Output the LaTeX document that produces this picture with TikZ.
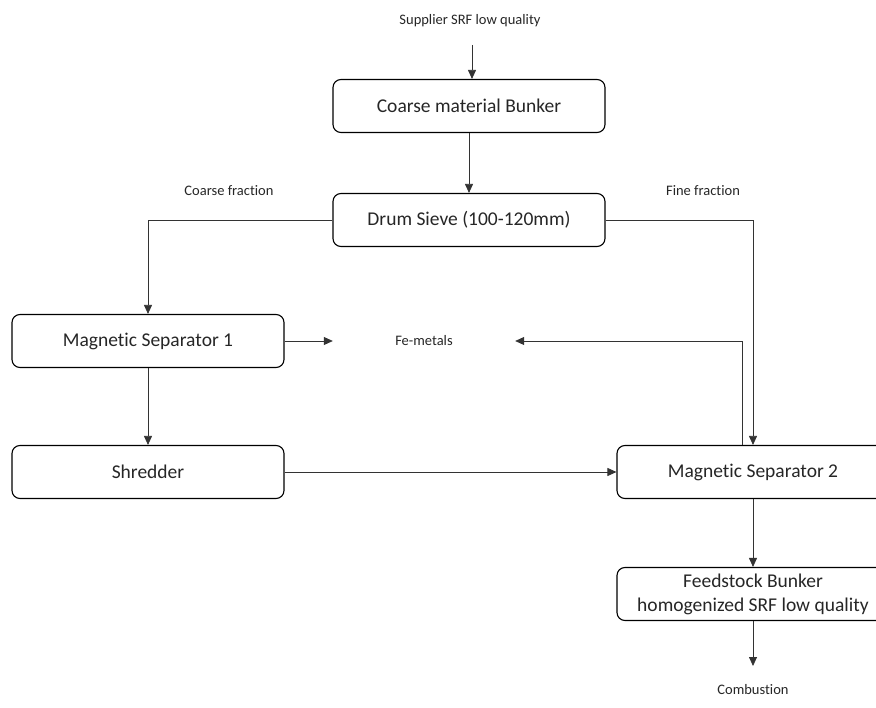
\documentclass[tikz,border=0pt]{standalone}
\usepackage{fontspec}
\setmainfont[Ligatures=NoCommon]{Carlito}
\usetikzlibrary{calc}
\usetikzlibrary{arrows.meta}

\begin{document}
\begin{tikzpicture}[x=1pt,y=-1pt,
        step box/.style={draw, rectangle, rounded corners=8pt, line width=1.1pt,
          minimum width=272pt, minimum height=53pt, font=\fontsize{19.5}{24}\selectfont,
          align=center, text=black!85},
        tag/.style={font=\fontsize{14.5}{17}\selectfont, text=black!85},
        flow/.style={draw=black!80, line width=0.8pt, -{Triangle[length=9pt,width=8pt]}}
      ]
    \useasboundingbox (0,0) rectangle (876,708);
    \clip (0,0) rectangle (876,708);

    % boxes
    \node[step box] (cmb) at (469,106) {Coarse material Bunker};
    \node[step box] (sieve) at (469,220) {Drum Sieve (100-120mm)};
    \node[step box] (ms1) at (148,341) {Magnetic Separator 1};
    \node[step box] (shred) at (148,472) {Shredder};
    \node[step box] (ms2) at (753,472) {Magnetic Separator 2};
    \node[step box, inner sep=1pt] (feed) at (753,594) {Feedstock Bunker\\homogenized SRF low quality};

    % texts
    \node[tag] (supplier) at (470,21) {Supplier SRF low quality};
    \node[tag] (coarse) at (229,191) {Coarse fraction};
    \node[tag] (fine) at (703,191) {Fine fraction};
    \node[tag, minimum width=182pt, inner sep=0pt] (fe) at (424,341) {Fe-metals};
    \node[tag] (comb) at (753,690) {Combustion};
    \coordinate (sin) at (472,45);
    \coordinate (cout) at (753,666);

    % connectors
    \draw[flow] (sin) -- (sin |- cmb.north);
    \draw[flow] (cmb) -- (sieve);
    \draw[flow] (sieve.west) -| (ms1.north);
    \draw[flow] (sieve.east) -| (ms2.north);
    \draw[flow] (ms1.east) -- (fe.west);
    \draw[flow] (ms1) -- (shred);
    \draw[flow] (shred) -- (ms2);
    \draw[flow] ($(ms2.north)+(-11,0)$) |- (fe.east);
    \draw[flow] (ms2) -- (feed);
    \draw[flow] (feed.south) -- (cout);

    \end{tikzpicture}
\end{document}
